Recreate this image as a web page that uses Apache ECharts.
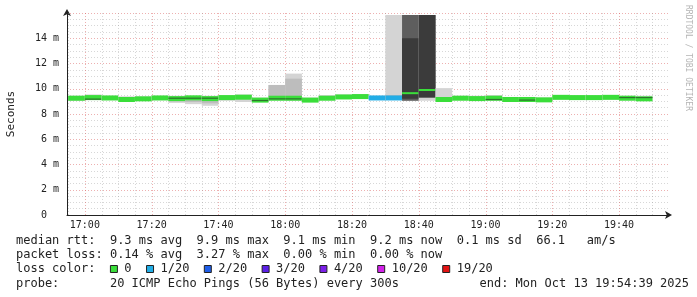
<!DOCTYPE html>
<html>
<head>
<meta charset="utf-8">
<script src="https://cdn.jsdelivr.net/npm/echarts@6/dist/echarts.min.js"></script>
<style>
html,body{margin:0;padding:0;background:#fff;}
#chart{width:697px;height:297px;}
</style>
</head>
<body>
<div id="chart"></div>
<script>
// ---- data (5-minute steps) ----
const times = ['16:55','17:00','17:05','17:10','17:15','17:20','17:25','17:30','17:35','17:40','17:45','17:50',
  '17:55','18:00','18:05','18:10','18:15','18:20','18:25','18:30','18:35','18:40','18:45','18:50','18:55',
  '19:00','19:05','19:10','19:15','19:20','19:25','19:30','19:35','19:40','19:45'];
// median rtt in ms
const median = [9.25,9.3,9.27,9.15,9.2,9.27,9.22,9.28,9.22,9.3,9.33,9.1,9.25,9.25,9.1,9.25,9.35,9.38,9.27,9.27,
  9.65,9.9,9.15,9.25,9.22,9.25,9.15,9.15,9.12,9.32,9.3,9.3,9.32,9.25,9.2];
// lost pings out of 20
const lossCount = [0,0,0,0,0,0,0,0,0,0,0,0,0,0,0,0,0,0,1,1,0,0,0,0,0,0,0,0,0,0,0,0,0,0,0];
// smoke: full ping range (ms)
const smokeLo = [9.05,9.1,9.1,9.0,9.05,9.1,8.88,8.78,8.65,9.05,8.95,9.0,9.1,9.05,8.95,9.1,9.2,9.2,9.15,9.15,
  9.05,9.05,9.0,9.1,9.05,9.05,9.0,9.0,9.0,9.15,9.15,9.15,9.15,9.1,9.1];
const smokeHi = [9.45,9.55,9.45,9.4,9.4,9.45,9.45,9.45,9.45,9.5,9.55,9.3,10.3,11.2,9.3,9.5,9.55,9.55,9.45,15.85,
  15.85,15.85,10.05,9.45,9.45,9.5,9.35,9.35,9.3,9.45,9.45,9.45,9.5,9.45,9.45];
// smoke: denser inner range (ms)
const innerLo = [null,null,null,null,null,null,9.0,8.95,8.85,null,null,null,9.1,9.1,null,null,null,null,null,9.2,
  null,null,null,null,null,null,null,null,null,null,null,null,null,null,null];
const innerHi = [null,null,null,null,null,null,9.3,9.3,9.3,null,null,null,10.3,10.8,null,null,null,null,null,9.5,
  null,null,null,null,null,null,null,null,null,null,null,null,null,null,null];
// smoke: heavy ranges (many pings spread high)
const heavyLo = [null,null,null,null,null,null,null,null,null,null,null,null,null,null,null,null,null,null,null,null,
  9.05,9.3,null,null,null,null,null,null,null,null,null,null,null,null,null];
const heavyHi = [null,null,null,null,null,null,null,null,null,null,null,null,null,null,null,null,null,null,null,null,
  15.85,15.85,null,null,null,null,null,null,null,null,null,null,null,null,null];
const coreLo = [null,null,null,null,null,null,null,null,null,null,null,null,null,null,null,null,null,null,null,null,
  9.2,9.3,null,null,null,null,null,null,null,null,null,null,null,null,null];
const coreHi = [null,null,null,null,null,null,null,null,null,null,null,null,null,null,null,null,null,null,null,null,
  14.0,15.85,null,null,null,null,null,null,null,null,null,null,null,null,null];
// darkest smoke line visible through the median band
const densest = [null,9.18,null,null,null,null,9.25,9.25,9.25,null,null,9.07,9.2,9.2,null,null,null,null,null,null,
  null,null,null,null,null,9.15,null,9.1,null,null,null,null,null,9.3,9.3];

// axis ticks
const yTicks = [0,2,4,6,8,10,12,14];
const xLabelTimes = ['17:00','17:20','17:40','18:00','18:20','18:40','19:00','19:20','19:40'];
const xMinorTimes = ['16:55','17:05','17:10','17:15','17:25','17:30','17:35','17:45','17:50','17:55',
  '18:05','18:10','18:15','18:25','18:30','18:35','18:45','18:50','18:55','19:05','19:10','19:15',
  '19:25','19:30','19:35','19:45','19:50'];

const lossLabels = ['0','1/20','2/20','3/20','4/20','10/20','19/20'];
const lossLevels = [0,1,2,3,4,10,19];
const lossColors = ['#3ade3a','#22ade6','#1f5ee8','#5b1fe6','#7b1fe8','#d322ea','#e31414'];

const statLine1 = 'median rtt:  9.3 ms avg  9.9 ms max  9.1 ms min  9.2 ms now  0.1 ms sd  66.1   am/s';
const statLine2 = 'packet loss: 0.14 % avg  3.27 % max  0.00 % min  0.00 % now';
const probeLine = 'probe:       20 ICMP Echo Pings (56 Bytes) every 300s';
const endLine = 'end: Mon Oct 13 19:54:39 2025';
const watermark = 'RRDTOOL / TOBI OETIKER';

// ---- helpers: x is minutes of the day ----
const STEP_MIN = 5;
function toM(hm, s) { const p = hm.split(':').map(Number); return p[0] * 60 + p[1] + (s || 0) / 60; }
function lossColor(n) { let c = lossColors[0]; for (let i = 0; i < lossLevels.length; i++) if (n >= lossLevels[i]) c = lossColors[i]; return c; }
const nz = v => (v == null ? '-' : v);
function two(n) { return (n < 10 ? '0' : '') + n; }
function fmtM(v) { const m = Math.round(v); return two(Math.floor(m / 60)) + ':' + two(m % 60); }

const data = times.map((t, i) => [toM(t), toM(t) + STEP_MIN, median[i], lossCount[i],
  nz(smokeLo[i]), nz(smokeHi[i]), nz(innerLo[i]), nz(innerHi[i]), nz(heavyLo[i]), nz(heavyHi[i]),
  nz(coreLo[i]), nz(coreHi[i]), nz(densest[i])]);

const MONO = '"DejaVu Sans Mono", monospace';
const labelValues = xLabelTimes.map(t => toM(t));

function renderItem(params, api) {
  const cs = params.coordSys;
  const t0 = api.value(0), t1 = api.value(1);
  const kids = [];
  function band(lo, hi, color) {
    if (isNaN(lo) || isNaN(hi)) return;
    const a = api.coord([t0, hi]), b = api.coord([t1, lo]);
    const r = echarts.graphic.clipRectByRect({x: a[0], y: a[1], width: b[0] - a[0], height: b[1] - a[1]},
      {x: cs.x, y: cs.y, width: cs.width, height: cs.height});
    if (r) kids.push({type: 'rect', shape: r, style: {fill: color}});
  }
  band(api.value(4), api.value(5), '#d4d4d4');
  band(api.value(6), api.value(7), '#bdbdbd');
  band(api.value(8), api.value(9), '#5e5e5e');
  band(api.value(10), api.value(11), '#3b3b3b');
  const heavy = !isNaN(api.value(10));
  const m = api.coord([t0, api.value(2)]);
  const m1 = api.coord([t1, api.value(2)]);
  const h = heavy ? 2 : 5;
  const col = lossColor(api.value(3));
  kids.push({type: 'rect', shape: {x: m[0], y: m[1] - h / 2, width: m1[0] - m[0], height: h}, style: {fill: col}});
  const d = api.value(12);
  if (!isNaN(d)) {
    const p = api.coord([t0, d]), q = api.coord([t1, d]);
    kids.push({type: 'line', shape: {x1: p[0], y1: p[1], x2: q[0], y2: q[1]}, style: {stroke: 'rgba(40,80,40,0.75)', lineWidth: 1.2}});
  }
  return {type: 'group', children: kids};
}

// grid lines (drawn through the axis scale)
function vLines(list, style) {
  return function (params, api) {
    const cs = params.coordSys;
    const kids = list.map(t => {
      const x = Math.round(api.coord([t, 0])[0]) + 0.5;
      return {type: 'line', shape: {x1: x, y1: cs.y, x2: x, y2: cs.y + cs.height}, style: style};
    });
    return {type: 'group', children: kids};
  };
}

// legend row 3 text + square positions
const CW = 7.224, TX = 16;
let row3 = 'loss color:  ';
const squares = [];
lossLabels.forEach((lab, i) => {
  squares.push({col: row3.length, color: lossColors[i]});
  row3 += '  ' + lab + '  ';
});

const graphics = [];
function txt(text, x, y, opts) {
  graphics.push(Object.assign({type: 'text', x: x, y: y, silent: true,
    style: Object.assign({text: text, font: '12px ' + MONO, fill: '#222', verticalAlign: 'middle'}, opts || {})}));
}
txt(statLine1, TX, 241);
txt(statLine2, TX, 255);
txt(row3, TX, 269);
txt(probeLine, TX, 283.5);
txt(endLine, 689, 283.5, {align: 'right'});
squares.forEach(s => {
  graphics.push({type: 'rect', silent: true, shape: {x: TX + s.col * CW + 0.5, y: 265.5, width: 7, height: 7},
    style: {fill: s.color, stroke: '#222', lineWidth: 1}});
});
graphics.push({type: 'text', x: 688, y: 5, rotation: -Math.PI / 2, silent: true,
  style: {text: watermark, font: '8px ' + MONO, fill: '#b5b5b5', verticalAlign: 'middle'}});

const MAJOR = {color: 'rgba(215,80,80,0.45)', lineDash: [1, 2], lineWidth: 1};
const MINOR = {color: 'rgba(140,140,140,0.35)', lineDash: [1, 2], lineWidth: 1};
const MAJOR_AX = {color: 'rgba(215,80,80,0.45)', type: [1, 2], width: 1};
const MINOR_AX = {color: 'rgba(140,140,140,0.35)', type: [1, 2], width: 1};
function strokeOf(s) { return {stroke: s.color, lineDash: s.lineDash, lineWidth: s.lineWidth, fill: null}; }

const chart = echarts.init(document.getElementById('chart'), null, {renderer: 'canvas'});
chart.setOption({
  animation: false,
  backgroundColor: '#fff',
  grid: {left: 67, right: 29, top: 13, bottom: 82, containLabel: false, outerBoundsMode: 'none'},
  xAxis: {
    type: 'value',
    min: toM('16:54', 39), max: toM('19:54', 39),
    axisLine: {show: true, lineStyle: {color: '#222', width: 1}, symbol: ['none', 'arrow'], symbolSize: [6, 7], symbolOffset: [0, 4]},
    axisTick: {show: false, customValues: labelValues},
    axisLabel: {customValues: labelValues, fontFamily: MONO, fontSize: 10, color: '#222', margin: 5,
      formatter: v => fmtM(v)},
    splitLine: {show: false},
    minorSplitLine: {show: false}
  },
  yAxis: {
    type: 'value', min: 0, max: 16, interval: 2,
    name: 'Seconds', nameLocation: 'middle', nameGap: 50, nameRotate: 90,
    nameTextStyle: {fontFamily: MONO, fontSize: 11, color: '#222'},
    axisLine: {show: true, lineStyle: {color: '#222', width: 1}, symbol: ['none', 'arrow'], symbolSize: [6, 7], symbolOffset: [0, 4]},
    axisTick: {show: false},
    axisLabel: {fontFamily: MONO, fontSize: 10, color: '#222', margin: 8, showMaxLabel: false,
      formatter: v => (yTicks.indexOf(v) < 0 ? '' : (v === 0 ? '0  ' : v + ' m'))},
    splitLine: {show: true, lineStyle: MAJOR_AX},
    minorTick: {show: false, splitNumber: 4},
    minorSplitLine: {show: true, lineStyle: MINOR_AX}
  },
  series: [{
    type: 'custom', z: 1, silent: true,
    renderItem: vLines(xMinorTimes.map(t => toM(t)), strokeOf(MINOR)),
    data: [[toM('16:55'), 0]], encode: {x: 0, y: 1}
  }, {
    type: 'custom', z: 1, silent: true,
    renderItem: vLines(labelValues, strokeOf(MAJOR)),
    data: [[toM('17:00'), 0]], encode: {x: 0, y: 1}
  }, {
    type: 'custom',
    renderItem: renderItem,
    data: data,
    dimensions: ['t0','t1','median','loss','sLo','sHi','iLo','iHi','hLo','hHi','cLo','cHi','dense'],
    encode: {x: [0, 1], y: 2},
    z: 5
  }],
  graphic: graphics
});
</script>
</body>
</html>
